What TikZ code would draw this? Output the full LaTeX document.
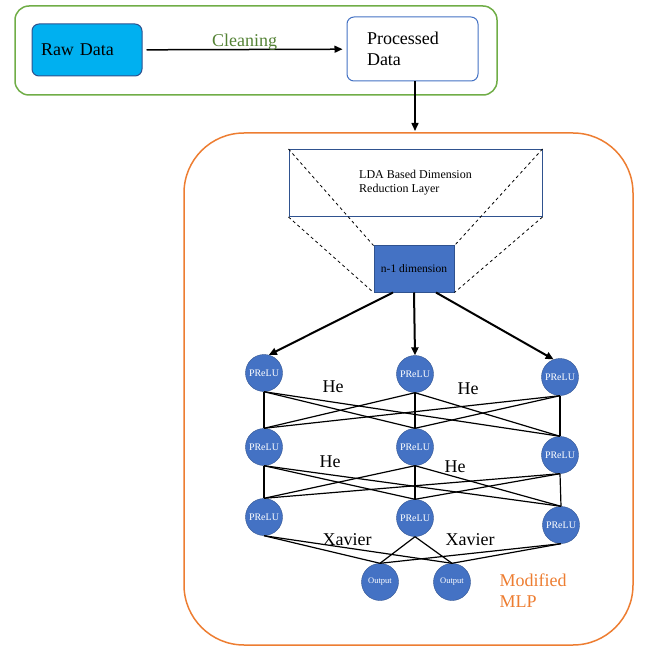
\documentclass[tikz,border=0pt]{standalone}
\usepackage{fontspec}
\setmainfont{Liberation Serif}
\usetikzlibrary{arrows.meta}

\definecolor{rawblue}{HTML}{00B0F0}
\definecolor{nodeblue}{HTML}{4472C4}
\definecolor{edgeblue}{HTML}{2F528F}
\definecolor{framegreen}{HTML}{70AD47}
\definecolor{textgreen}{HTML}{548235}
\definecolor{frameorange}{HTML}{ED7D31}

\tikzset{
  neuron/.style={circle,fill=nodeblue,draw=edgeblue,minimum size=37pt,inner sep=0pt,
    text=white,font=\fontsize{10}{10}\selectfont},
  bigtext/.style={font=\fontsize{18}{21}\selectfont},
}

\begin{document}
\begin{tikzpicture}[x=1pt,y=-1pt]
        \useasboundingbox (0,0) rectangle (648,647);

        % frames
        \draw[framegreen,line width=1.5pt,rounded corners=14pt] (15,6) rectangle (497,95);
        \draw[frameorange,line width=1.5pt,rounded corners=60pt] (184,133) rectangle (633,645);

        \begin{scope}[every node/.style={bigtext,align=left,rounded corners=7pt,line width=1pt}]
          \node[draw=edgeblue,fill=rawblue,text width=92pt,inner xsep=9pt,minimum height=52pt] (raw) at (87,50) {Raw Data};
          \node[draw=nodeblue,fill=white,text width=91pt,inner xsep=20pt,minimum height=64pt] (proc) at (412.5,49) {Processed\\Data};
        \end{scope}

        \coordinate (top) at (415,131);

        \node[draw=edgeblue,line width=1pt,minimum width=253pt,minimum height=67pt,align=left,
              font=\fontsize{12}{14}\selectfont] (lda) at (415.5,183) {LDA Based Dimension\\Reduction Layer};
        \node[draw=edgeblue,fill=nodeblue,line width=1pt,minimum width=80pt,minimum height=46pt,inner sep=1pt,
              font=\fontsize{11.5}{13}\selectfont] (dim) at (414,269) {n-1 dimension};

        \begin{scope}[every node/.style={neuron}]
          \node (a1) at (264,373) {PReLU};
          \node (a2) at (415,374) {PReLU};
          \node (a3) at (560,377) {PReLU};
          \node (b1) at (264,447) {PReLU};
          \node (b2) at (415,447) {PReLU};
          \node (b3) at (560,455) {PReLU};
          \node (c1) at (264,517) {PReLU};
          \node (c2) at (415,518) {PReLU};
          \node (c3) at (561,525) {PReLU};
          \node[font=\fontsize{8.5}{9}\selectfont] (o1) at (380,582) {Output};
          \node[font=\fontsize{8.5}{9}\selectfont] (o2) at (452,582) {Output};
        \end{scope}

        % arrows
        \draw[-{Triangle[length=8pt,width=7pt]},line width=1.5pt,shorten <=4pt,shorten >=4pt] (raw) -- node[midway,above=-5pt,bigtext,textgreen] {Cleaning} (proc);
        \draw[-{Triangle[length=8pt,width=7pt]},line width=1.5pt] (proc.south -| top) -- (top);
        \begin{scope}[line width=2pt,-{Triangle[length=8pt,width=7pt]}]
          \draw ([xshift=-21pt]dim.south) -- (a1.75);
          \draw (dim.south) -- (a2.north);
          \draw ([xshift=22pt]dim.south) -- (a3.110);
        \end{scope}

        % projection
        \begin{scope}[dashed,line width=0.8pt]
          \draw (lda.north west) -- (dim.north west);
          \draw (lda.south west) -- (dim.south west);
          \draw (lda.north east) -- (dim.north east);
          \draw (lda.south east) -- (dim.south east);
        \end{scope}

        % layers
        \begin{scope}[line width=1.2pt]
          \foreach \u in {a1,a2,a3} \foreach \v in {b1,b2,b3} \draw (\u.south) -- (\v.north);
          \foreach \u in {b1,b2,b3} \foreach \v in {c1,c2,c3} \draw (\u.south) -- (\v.north);
          \foreach \u in {c1,c2,c3} \foreach \v in {o1,o2} \draw (\u.south) -- (\v.north);
        \end{scope}

        \begin{scope}[every node/.style={bigtext}]
          \node (he1) at (333,387) {He};
          \node (he2) at (468,389) {He};
          \node (he3) at (330,462) {He};
          \node (he4) at (455,467) {He};
          \node (xa1) at (347,540) {Xavier};
          \node (xa2) at (470,540) {Xavier};
          \node[text=frameorange,align=left,anchor=west] (mlp) at (496,591) {Modified\\MLP};
        \end{scope}

      \end{tikzpicture}
\end{document}
